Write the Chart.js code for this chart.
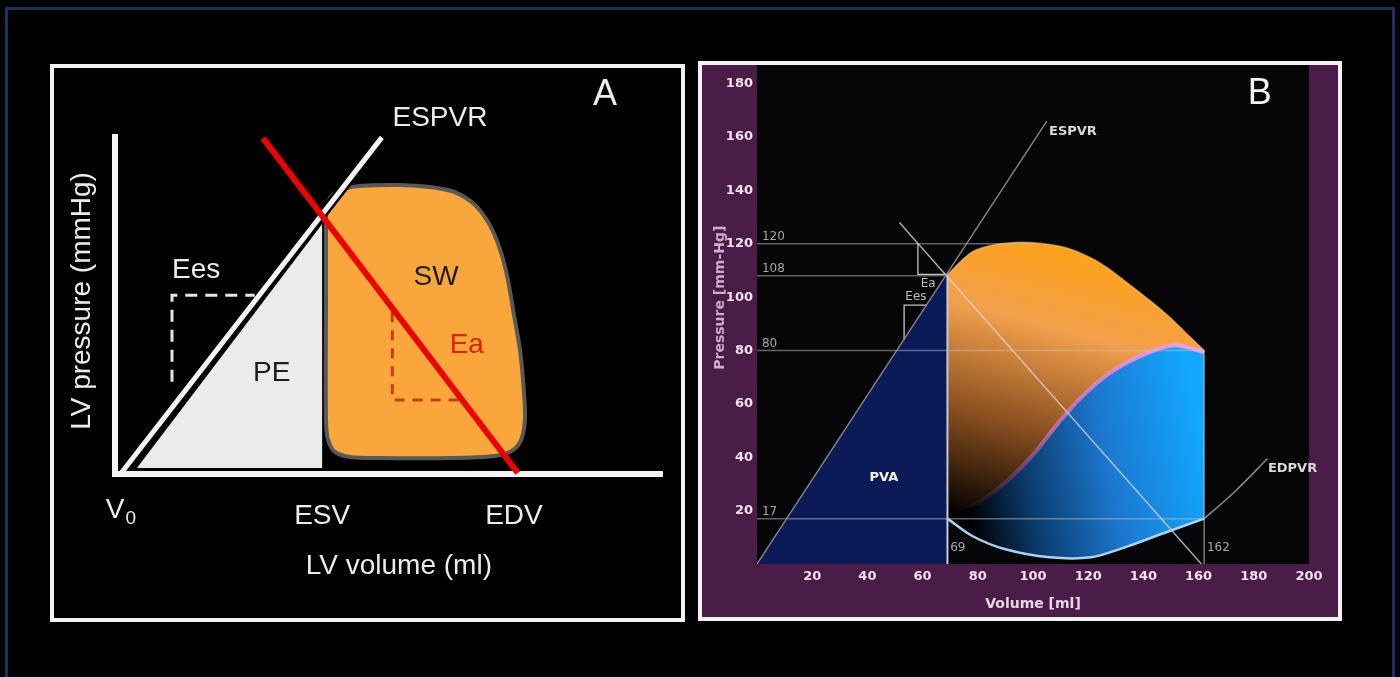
<!DOCTYPE html>
<html lang="pt-BR">
<head>
<meta charset="utf-8">
<title>Alça pressão-volume</title>
<script src="https://cdn.jsdelivr.net/npm/chart.js@4.4.1/dist/chart.umd.min.js"></script>
<style>
    html, body { margin: 0; padding: 0; background: #000; width: 1400px; height: 677px; overflow: hidden; }
    .moldura { position: absolute; left: 5px; top: 7px; width: 1390px; height: 700px; border: 3px solid #1d2f5f; box-sizing: border-box; }
    .painel { position: absolute; border: 4px solid #f2f2f2; box-sizing: border-box; }
    #painelA { left: 50px; top: 64px; width: 635px; height: 558px; background: #000; }
    #painelB { left: 698px; top: 61px; width: 644px; height: 560px; background: #4a1d47; }
    canvas { position: absolute; left: 0; top: 0; }
</style>
</head>
<body>
<div class="moldura"></div>
<div class="painel" id="painelA"><canvas id="graficoA" width="627" height="550"></canvas></div>
<div class="painel" id="painelB"><canvas id="graficoB" width="636" height="552"></canvas></div>

<script>
// ---- Painel A (esquema, unidades arbitrárias 0-100) ----
const eixoA_vol  = [0, 0, 100];
const eixoA_pres = [100, 0, 0];
const espvrA_vol  = [1, 48.7];
const espvrA_pres = [0, 99];
const peA_vol  = [4, 37.8, 37.8, 4];
const peA_pres = [1.8, 1.8, 73.5, 1.8];
const swA_vol  = [38.5, 39.2, 41.1, 44.7, 52.0, 57.5, 62.0, 65.7, 68.4, 70.3, 71.7, 72.8, 73.9, 74.6, 74.8, 74.1, 72.4, 69.3, 61.1, 48.4, 42.9, 40.1, 38.9, 38.5, 38.5, 38.5];
const swA_pres = [76.2, 81.2, 83.5, 84.7, 85.0, 84.4, 82.9, 79.1, 73.2, 65.9, 57.1, 46.8, 36.5, 24.7, 15.9, 10.0, 6.8, 5.3, 4.7, 4.7, 5.0, 6.5, 10.0, 15.9, 51.2, 76.2];
const eaA_vol  = [27, 73.5];
const eaA_pres = [98.8, 0.3];
const eaDegrauA_vol  = [50.6, 50.6, 63.2];
const eaDegrauA_pres = [47.6, 21.8, 21.8];
const eesDegrauA_vol  = [10.4, 10.4, 25.5];
const eesDegrauA_pres = [27.1, 52.6, 52.6];

// ---- Painel B (volume ml x pressão mmHg) ----
const ticksVolume  = [20, 40, 60, 80, 100, 120, 140, 160, 180, 200];
const ticksPressao = [20, 40, 60, 80, 100, 120, 140, 160, 180];
const espvrB_vol  = [0, 105];
const espvrB_pres = [0, 166];
const eaB_vol  = [51.6, 161];
const eaB_pres = [128, 0];
const pvaB_vol  = [0, 69, 69, 0];
const pvaB_pres = [0, 108.5, 0, 0];
const topoB_vol  = [69, 78, 88, 99, 112, 124, 136.5, 148.5, 158, 162];
const topoB_pres = [108.5, 117, 120, 120.5, 118.5, 113, 103.5, 93.5, 84, 80];
const divisaB_vol  = [162, 151, 139, 127, 117, 108.5, 100, 90.5, 81, 73.5];
const divisaB_pres = [79.5, 82, 78, 71, 62, 52, 41, 31, 23.5, 19.5];
const enchB_vol  = [69, 78, 90, 106, 121, 134, 148.5, 162];
const enchB_pres = [17, 10.5, 5.5, 2.5, 2.5, 6.5, 12, 17];
const edpvrB_vol  = [162, 173, 185];
const edpvrB_pres = [17, 27, 39.5];
const refsB_pres = [120, 108, 80, 17];
const refsB_fim  = [99, 69, 162, 162];
const vertsB_vol  = [69, 162];
const vertsB_topo = [108.5, 80];
const eaTriB_vol  = [58.3, 58.3, 69];
const eaTriB_pres = [120, 108.5, 108.5];
const eesTriB_vol  = [53.3, 53.3, 61.5];
const eesTriB_pres = [84, 97, 97];

Chart.defaults.font.family = "'DejaVu Sans', sans-serif";
Chart.defaults.animation = false;

const pts = (xs, ys) => xs.map((x, i) => ({ x, y: ys[i] }));

function linha(xs, ys, cor, larg, extra = {}) {
    return {
        data: pts(xs, ys),
        showLine: true,
        pointRadius: 0,
        borderColor: cor,
        borderWidth: larg,
        fill: false,
        tension: 0,
        ...extra
    };
}

function escrever(ctx, txt, px, py, fonte, cor, alinh = 'center') {
    ctx.save();
    ctx.font = fonte;
    ctx.fillStyle = cor;
    ctx.textAlign = alinh;
    ctx.textBaseline = 'middle';
    ctx.fillText(txt, px, py);
    ctx.restore();
}

function gradiente(chart, de, ate, paradas) {
    const { x, y } = chart.scales;
    const g = chart.ctx.createLinearGradient(
        x.getPixelForValue(de[0]), y.getPixelForValue(de[1]),
        x.getPixelForValue(ate[0]), y.getPixelForValue(ate[1])
    );
    paradas.forEach(([p, c]) => g.addColorStop(p, c));
    return g;
}

const opcoesBase = {
    responsive: false,
    events: [],
    plugins: { legend: { display: false }, tooltip: { enabled: false } }
};

// ---------------- Painel A ----------------
const textosA = {
    id: 'textosA',
    afterDatasetsDraw(chart) {
        const { ctx, scales: { x, y } } = chart;
        const t = (txt, vx, vy, fonte, cor, alinh) =>
            escrever(ctx, txt, x.getPixelForValue(vx), y.getPixelForValue(vy), fonte, cor, alinh);
        const f = '28px "Liberation Sans", Arial, sans-serif';
        const branco = '#ececec';

        t('ESPVR', 59.3, 104.7, f, branco);
        t('A', 89.4, 111.5, '36px "Liberation Sans", Arial, sans-serif', branco);
        t('Ees', 14.8, 60, f, branco);
        t('PE', 28.6, 29.7, f, '#1c1c1c');
        t('SW', 58.6, 57.9, f, '#1c1c1c');
        t('Ea', 64.2, 37.9, f, '#e0221a');
        t('V', 0, -10.6, f, branco);
        t('0', 2.9, -13.2, '19px "Liberation Sans", Arial, sans-serif', branco);
        t('ESV', 37.8, -12.4, f, branco);
        t('EDV', 72.8, -12.4, f, branco);
        t('LV volume (ml)', 51.8, -27.1, f, branco);

        ctx.save();
        ctx.translate(x.getPixelForValue(-6), y.getPixelForValue(50.9));
        ctx.rotate(-Math.PI / 2);
        escrever(ctx, 'LV pressure (mmHg)', 0, 0, f, branco);
        ctx.restore();
    }
};

function criarPainelA() {
    const canvas = document.getElementById('graficoA');
    const semCorte = { clip: false };

    new Chart(canvas, {
        type: 'scatter',
        data: {
            datasets: [
                linha(peA_vol, peA_pres, 'rgba(0,0,0,0)', 0, { fill: 'shape', backgroundColor: '#ebebeb', order: 10, ...semCorte }),
                linha(swA_vol, swA_pres, '#595959', 4, { fill: 'shape', backgroundColor: '#f9a63b', tension: 0.3, order: 9, ...semCorte }),
                linha(espvrA_vol, espvrA_pres, '#000', 10, { order: 6, ...semCorte }),
                linha(espvrA_vol, espvrA_pres, '#f4f4f4', 5, { order: 5, ...semCorte }),
                linha(eixoA_vol, eixoA_pres, '#f4f4f4', 6, { order: 5, borderJoinStyle: 'miter', ...semCorte }),
                linha(eesDegrauA_vol, eesDegrauA_pres, '#e6e6e6', 3, { borderDash: [12, 8], order: 4, ...semCorte }),
                linha(eaDegrauA_vol, eaDegrauA_pres, '#cc3a1a', 3, { borderDash: [10, 8], order: 4, ...semCorte }),
                linha(eaA_vol, eaA_pres, '#ec0000', 6, { order: 1, ...semCorte })
            ]
        },
        options: {
            ...opcoesBase,
            layout: { padding: { left: 61, right: 18, top: 66, bottom: 144 } },
            scales: {
                x: { type: 'linear', min: 0, max: 100, display: false },
                y: { type: 'linear', min: 0, max: 100, display: false }
            }
        },
        plugins: [textosA]
    });
}

// ---------------- Painel B ----------------
const extrasB = {
    id: 'extrasB',
    beforeDraw(chart) {
        const { ctx, chartArea: a } = chart;
        ctx.save();
        ctx.fillStyle = '#060508';
        ctx.fillRect(a.left, a.top, a.right - a.left, a.bottom - a.top);
        ctx.restore();
    },
    afterDatasetsDraw(chart) {
        const { ctx, scales: { x, y } } = chart;
        const t = (txt, vx, vy, fonte, cor, alinh) =>
            escrever(ctx, txt, x.getPixelForValue(vx), y.getPixelForValue(vy), fonte, cor, alinh);
        const fino = '12px "DejaVu Sans", sans-serif';
        const negrito = 'bold 13px "DejaVu Sans", sans-serif';

        refsB_pres.forEach(v => t(String(v), 1.8, v + 2.5, fino, '#a6a6a6', 'left'));
        vertsB_vol.forEach(v => t(String(v), v + 1, 6, fino, '#a6a6a6', 'left'));
        t('Ea', 62, 105.1, fino, '#bdbdbd');
        t('Ees', 57.6, 100.2, fino, '#bdbdbd');
        t('ESPVR', 105.8, 162.1, negrito, '#d9d9d9', 'left');
        t('EDPVR', 185.1, 35.6, negrito, '#d9d9d9', 'left');
        t('PVA', 46, 32.3, negrito, '#f4f4f4');
        t('B', 182.2, 176, '36px "Liberation Sans", Arial, sans-serif', '#f4f4f4');

        ctx.save();
        ctx.translate(x.getPixelForValue(-13.4), y.getPixelForValue(99.8));
        ctx.rotate(-Math.PI / 2);
        escrever(ctx, 'Pressure [mm-Hg]', 0, 0, 'bold 14px "DejaVu Sans", sans-serif', '#d2a9cf');
        ctx.restore();
    }
};

function criarPainelB() {
    const canvas = document.getElementById('graficoB');

    // polígonos das duas zonas da alça (cantos repetidos para ficarem vivos com tension)
    const divRevVol  = [...divisaB_vol].reverse();
    const divRevPres = [...divisaB_pres].reverse();
    const enchRevVol  = [...enchB_vol].reverse();
    const enchRevPres = [...enchB_pres].reverse();

    const laranjaVol  = [...topoB_vol, ...divisaB_vol, enchB_vol[0], enchB_vol[0], topoB_vol[0]];
    const laranjaPres = [...topoB_pres, ...divisaB_pres, enchB_pres[0], enchB_pres[0], topoB_pres[0]];
    const azulVol  = [enchB_vol[0], ...divRevVol, divisaB_vol[0], enchRevVol[0], ...enchRevVol];
    const azulPres = [enchB_pres[0], ...divRevPres, divisaB_pres[0], enchRevPres[0], ...enchRevPres];

    const corLaranja = (c) => c.chart.chartArea
        ? gradiente(c.chart, [100, 125], [72, 18], [[0, '#ffa214'], [0.3, '#f2a04c'], [0.65, '#8a5020'], [1, '#000']])
        : '#f39a2a';
    const corAzul = (c) => c.chart.chartArea
        ? gradiente(c.chart, [165, 30], [78, 12], [[0, '#12a8ff'], [0.4, '#1c78d0'], [0.75, '#0a3a6a'], [1, '#000']])
        : '#1a80d8';
    const corDivisa = (c) => c.chart.chartArea
        ? gradiente(c.chart, [162, 80], [75, 20], [[0, 'rgba(248,160,235,0.95)'], [0.6, 'rgba(225,115,205,0.7)'], [1, 'rgba(150,60,120,0)']])
        : '#f0a0e0';

    const cinza = 'rgba(190,190,190,0.5)';

    const refs = refsB_pres.map((v, i) =>
        linha([0, refsB_fim[i]], [v, v], cinza, 1.5, { order: 3 }));
    const verts = vertsB_vol.map((v, i) =>
        linha([v, v], [0, vertsB_topo[i]], i === 0 ? '#c8cad8' : 'rgba(200,200,200,0.6)', i === 0 ? 2 : 1.5, { order: 3 }));

    new Chart(canvas, {
        type: 'scatter',
        data: {
            datasets: [
                linha(pvaB_vol, pvaB_pres, 'rgba(0,0,0,0)', 0, { fill: 'shape', backgroundColor: '#0b1b58', order: 10 }),
                linha(laranjaVol, laranjaPres, 'rgba(0,0,0,0)', 0, { fill: 'shape', backgroundColor: corLaranja, tension: 0.3, order: 9 }),
                linha(azulVol, azulPres, 'rgba(0,0,0,0)', 0, { fill: 'shape', backgroundColor: corAzul, tension: 0.3, order: 9 }),
                linha(divisaB_vol, divisaB_pres, corDivisa, 4, { tension: 0.3, order: 5 }),
                linha(topoB_vol, topoB_pres, 'rgba(255,215,170,0.45)', 1.5, { tension: 0.3, order: 5 }),
                linha(enchB_vol, enchB_pres, '#a8d2f2', 2.5, { tension: 0.3, order: 5 }),
                linha(edpvrB_vol, edpvrB_pres, '#8a8a8a', 1.5, { tension: 0.3, order: 5 }),
                ...refs,
                ...verts,
                linha(espvrB_vol, espvrB_pres, '#8c8c8c', 1.3, { order: 2 }),
                linha(eaB_vol, eaB_pres, 'rgba(215,215,215,0.8)', 1.4, { order: 2 }),
                linha(eaTriB_vol, eaTriB_pres, '#c4c4c4', 1.3, { order: 2 }),
                linha(eesTriB_vol, eesTriB_pres, '#c4c4c4', 1.3, { order: 2 })
            ]
        },
        options: {
            ...opcoesBase,
            layout: { padding: { left: 0, right: 29, top: 0, bottom: 0 } },
            scales: {
                x: {
                    type: 'linear', min: 0, max: 200,
                    grid: { display: false, drawTicks: false },
                    border: { display: false },
                    afterBuildTicks: (s) => { s.ticks = ticksVolume.map(v => ({ value: v })); },
                    afterFit: (s) => { s.height = 53; s.paddingLeft = 0; s.paddingRight = 0; },
                    ticks: { color: '#f0e2ee', padding: 5, maxRotation: 0, autoSkip: false, font: { size: 13, weight: 'bold' } },
                    title: { display: true, text: 'Volume [ml]', color: '#ead6e8', font: { size: 14, weight: 'bold' } }
                },
                y: {
                    type: 'linear', min: 0, max: 187,
                    grid: { display: false, drawTicks: false },
                    border: { display: false },
                    afterBuildTicks: (s) => { s.ticks = ticksPressao.map(v => ({ value: v })); },
                    afterFit: (s) => { s.width = 55; s.paddingTop = 0; s.paddingBottom = 0; },
                    ticks: { color: '#f0e2ee', padding: 4, autoSkip: false, font: { size: 13, weight: 'bold' } }
                }
            }
        },
        plugins: [extrasB]
    });
}

criarPainelA();
criarPainelB();
</script>
</body>
</html>
